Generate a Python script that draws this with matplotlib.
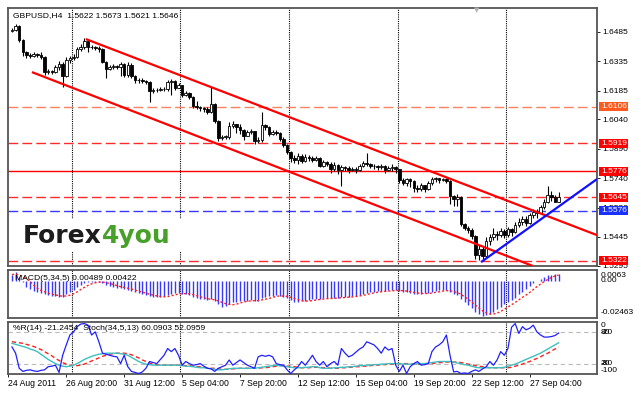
import numpy as np
import matplotlib
matplotlib.use('Agg')
import matplotlib.pyplot as plt
import matplotlib.transforms as mtransforms
from matplotlib.patches import Rectangle

plt.rcParams['font.family'] = ['Liberation Sans', 'DejaVu Sans']

# GBPUSD H4 candles, 24 Aug - 28 Sep 2011
first_open = 1.6490
closes = [
    1.6495, 1.6516, 1.6444, 1.6384, 1.6368, 1.6363, 1.6373, 1.6368, 1.6358, 1.6282,
    1.6287, 1.6282, 1.6307, 1.6323, 1.6262, 1.6343, 1.6353, 1.6358, 1.6399, 1.6409,
    1.6439, 1.6409, 1.6409, 1.6404, 1.6399, 1.6333, 1.6297, 1.6307, 1.6312, 1.6307,
    1.6323, 1.6267, 1.6318, 1.6262, 1.6242, 1.6242, 1.6237, 1.6232, 1.6186, 1.6191,
    1.6191, 1.6196, 1.6196, 1.6232, 1.6237, 1.6201, 1.6216, 1.6166, 1.6176, 1.6155,
    1.6110, 1.6105, 1.6100, 1.6095, 1.6080, 1.6120, 1.6034, 1.5948, 1.5953, 1.5953,
    1.6009, 1.6019, 1.6004, 1.5988, 1.5958, 1.5978, 1.5983, 1.5933, 1.5938, 1.6014,
    1.6004, 1.5968, 1.5978, 1.5973, 1.5943, 1.5912, 1.5877, 1.5846, 1.5836, 1.5856,
    1.5831, 1.5851, 1.5846, 1.5836, 1.5846, 1.5806, 1.5826, 1.5816, 1.5786, 1.5811,
    1.5781, 1.5796, 1.5791, 1.5781, 1.5786, 1.5781, 1.5806, 1.5821, 1.5816, 1.5806,
    1.5801, 1.5796, 1.5801, 1.5781, 1.5791, 1.5796, 1.5786, 1.5730, 1.5715, 1.5735,
    1.5725, 1.5690, 1.5685, 1.5705, 1.5685, 1.5715, 1.5735, 1.5740, 1.5730, 1.5735,
    1.5725, 1.5649, 1.5634, 1.5644, 1.5507, 1.5487, 1.5477, 1.5446, 1.5350, 1.5381,
    1.5345, 1.5421, 1.5441, 1.5456, 1.5451, 1.5472, 1.5451, 1.5482, 1.5467, 1.5502,
    1.5517, 1.5532, 1.5512, 1.5553, 1.5568, 1.5563, 1.5593, 1.5619, 1.5655, 1.5644,
    1.5622, 1.5646]
highs = [
    1.6505, 1.6526, 1.6521, 1.6449, 1.6389, 1.6378, 1.6384, 1.6378, 1.6384, 1.6363,
    1.6297, 1.6292, 1.6318, 1.6338, 1.6333, 1.6358, 1.6363, 1.6373, 1.6409, 1.6424,
    1.6454, 1.6444, 1.6419, 1.6414, 1.6414, 1.6404, 1.6338, 1.6318, 1.6323, 1.6318,
    1.6333, 1.6328, 1.6333, 1.6328, 1.6267, 1.6252, 1.6252, 1.6242, 1.6237, 1.6201,
    1.6201, 1.6206, 1.6206, 1.6242, 1.6247, 1.6242, 1.6226, 1.6216, 1.6186, 1.6181,
    1.6160, 1.6135, 1.6110, 1.6105, 1.6105, 1.6206, 1.6125, 1.6039, 1.5963, 1.5963,
    1.6029, 1.6034, 1.6019, 1.6019, 1.5993, 1.5988, 1.5993, 1.5983, 1.5953, 1.6080,
    1.6019, 1.6009, 1.5988, 1.5988, 1.5978, 1.5953, 1.5917, 1.5882, 1.5861, 1.5871,
    1.5866, 1.5866, 1.5861, 1.5856, 1.5856, 1.5851, 1.5836, 1.5831, 1.5826, 1.5826,
    1.5816, 1.5811, 1.5806, 1.5801, 1.5796, 1.5796, 1.5816, 1.5831, 1.5872, 1.5821,
    1.5816, 1.5811, 1.5816, 1.5811, 1.5806, 1.5816, 1.5806, 1.5786, 1.5740, 1.5745,
    1.5740, 1.5730, 1.5705, 1.5715, 1.5705, 1.5725, 1.5750, 1.5750, 1.5745, 1.5745,
    1.5740, 1.5730, 1.5654, 1.5659, 1.5649, 1.5512, 1.5497, 1.5487, 1.5451, 1.5401,
    1.5391, 1.5441, 1.5456, 1.5487, 1.5472, 1.5487, 1.5482, 1.5492, 1.5487, 1.5517,
    1.5537, 1.5548, 1.5548, 1.5563, 1.5583, 1.5583, 1.5603, 1.5634, 1.5700, 1.5674,
    1.5654, 1.5673]
lows = [
    1.6485, 1.6490, 1.6434, 1.6363, 1.6353, 1.6353, 1.6358, 1.6358, 1.6348, 1.6267,
    1.6272, 1.6272, 1.6277, 1.6292, 1.6206, 1.6257, 1.6328, 1.6343, 1.6353, 1.6389,
    1.6399, 1.6384, 1.6399, 1.6394, 1.6384, 1.6328, 1.6252, 1.6292, 1.6297, 1.6297,
    1.6262, 1.6257, 1.6257, 1.6252, 1.6226, 1.6226, 1.6226, 1.6221, 1.6130, 1.6176,
    1.6181, 1.6186, 1.6186, 1.6186, 1.6166, 1.6191, 1.6201, 1.6155, 1.6160, 1.6145,
    1.6100, 1.6095, 1.6085, 1.6080, 1.6069, 1.6075, 1.6024, 1.5933, 1.5938, 1.5943,
    1.5943, 1.5998, 1.5973, 1.5968, 1.5938, 1.5963, 1.5968, 1.5917, 1.5922, 1.5928,
    1.5988, 1.5958, 1.5963, 1.5963, 1.5933, 1.5902, 1.5866, 1.5826, 1.5821, 1.5816,
    1.5821, 1.5826, 1.5831, 1.5826, 1.5831, 1.5796, 1.5796, 1.5801, 1.5770, 1.5776,
    1.5765, 1.5700, 1.5776, 1.5770, 1.5776, 1.5770, 1.5776, 1.5796, 1.5801, 1.5791,
    1.5786, 1.5781, 1.5786, 1.5770, 1.5776, 1.5776, 1.5770, 1.5715, 1.5705, 1.5700,
    1.5695, 1.5670, 1.5670, 1.5674, 1.5670, 1.5680, 1.5705, 1.5720, 1.5715, 1.5725,
    1.5715, 1.5608, 1.5598, 1.5598, 1.5497, 1.5477, 1.5461, 1.5431, 1.5330, 1.5325,
    1.5330, 1.5340, 1.5401, 1.5426, 1.5426, 1.5441, 1.5436, 1.5441, 1.5446, 1.5461,
    1.5492, 1.5502, 1.5497, 1.5507, 1.5537, 1.5537, 1.5558, 1.5583, 1.5614, 1.5624,
    1.5618, 1.5621]

# MACD(5,34,5) histogram and signal, in 1e-4
macd_pts = [
    40, 63, 25, -10, -40, -55, -70, -78, -85, -92,
    -98, -105, -108, -110, -112, -92, -78, -60, -42, -28,
    -15, -8, -8, -5, -6, -15, -28, -36, -42, -46,
    -49, -58, -62, -72, -80, -86, -92, -98, -108, -112,
    -114, -112, -108, -96, -88, -86, -84, -90, -95, -100,
    -112, -120, -126, -130, -135, -128, -140, -165, -183, -178,
    -160, -150, -145, -140, -142, -138, -133, -138, -140, -118,
    -110, -108, -104, -100, -104, -112, -122, -135, -147, -145,
    -142, -138, -133, -130, -125, -125, -122, -120, -122, -118,
    -117, -115, -112, -110, -106, -103, -96, -88, -82, -78,
    -75, -73, -71, -70, -66, -64, -63, -70, -78, -80,
    -84, -90, -92, -88, -86, -82, -75, -70, -66, -63,
    -64, -80, -95, -100, -126, -150, -168, -190, -215, -230,
    -246, -240, -230, -215, -200, -185, -165, -150, -135, -120,
    -95, -80, -55, -35, -12, 2, 15, 28, 40, 45,
    47, 49]
signal_pts = [
    45, 48, 42, 30, 16, -3, -30, -51, -66, -76,
    -85, -92, -98, -103, -107, -105, -100, -90, -77, -60,
    -45, -31, -20, -13, -8, -8, -12, -18, -25, -33,
    -40, -46, -51, -57, -64, -72, -78, -86, -93, -99,
    -105, -109, -111, -110, -104, -98, -92, -89, -89, -91,
    -96, -103, -111, -118, -125, -128, -132, -140, -150, -159,
    -165, -167, -163, -155, -147, -143, -140, -138, -138, -133,
    -128, -123, -116, -108, -105, -106, -108, -115, -124, -132,
    -138, -141, -141, -138, -134, -130, -127, -124, -123, -121,
    -120, -118, -116, -114, -112, -109, -105, -101, -95, -89,
    -84, -79, -76, -73, -71, -69, -67, -67, -68, -71,
    -75, -80, -85, -87, -88, -88, -85, -80, -76, -71,
    -68, -69, -74, -81, -93, -110, -128, -147, -170, -190,
    -210, -224, -232, -232, -226, -214, -199, -183, -167, -151,
    -133, -115, -99, -81, -60, -40, -22, -4, 11, 24,
    35, 42]

# Williams %R(14)
wpr = [
    -48, -60, -89, -95, -93, -92, -94, -95, -93, -92,
    -86, -85, -83, -97, -64, -44, -25, -19, -9, -4,
    -3, -6, -25, -19, -38, -60, -62, -64, -66, -67,
    -80, -64, -86, -95, -97, -99, -96, -89, -76, -78,
    -80, -72, -64, -51, -57, -51, -64, -83, -76, -80,
    -83, -82, -80, -85, -89, -90, -95, -89, -86, -83,
    -73, -83, -78, -73, -78, -83, -86, -89, -67, -64,
    -66, -64, -67, -80, -82, -83, -92, -99, -92, -86,
    -76, -83, -74, -64, -76, -83, -76, -86, -80, -76,
    -83, -51, -60, -67, -64, -58, -52, -48, -38, -41,
    -44, -51, -60, -48, -54, -51, -83, -95, -83, -99,
    -86, -80, -76, -83, -82, -80, -57, -48, -44, -38,
    -25, -64, -96, -95, -99, -98, -99, -95, -92, -95,
    -90, -86, -76, -83, -73, -57, -64, -51, -10, -3,
    -22, -9, -15, -12, -6, -19, -25, -29, -29, -28,
    -26, -21.25]

# Stochastic(34,5,13) main and signal
stoch_main = [
    59, 57, 55, 53, 51, 48, 46, 43, 38, 33,
    28, 24, 20, 17, 15, 14, 15, 17, 20, 24,
    28, 31, 34, 36, 38, 39, 40, 40, 40, 40,
    39, 38, 36, 32, 28, 24, 21, 19, 18, 17,
    17, 17, 17, 17, 17, 17, 17, 16, 15, 15,
    14, 13, 12, 12, 11, 10, 9, 8, 8, 9,
    10, 11, 11, 11, 11, 11, 11, 11, 12, 13,
    14, 15, 16, 17, 16, 15, 14, 13, 12, 12,
    12, 13, 13, 14, 14, 12, 11, 11, 11, 12,
    12, 13, 13, 14, 14, 15, 16, 16, 17, 17,
    18, 18, 19, 19, 20, 20, 20, 20, 19, 19,
    19, 19, 20, 20, 20, 21, 22, 23, 24, 24,
    24, 24, 23, 21, 20, 18, 17, 15, 13, 12,
    12, 12, 12, 12, 12, 12, 13, 15, 17, 19,
    22, 25, 28, 31, 34, 37, 40, 44, 48, 52,
    56, 60.09]
stoch_signal = [
    62, 61, 60, 59, 57, 55, 53, 50, 47, 43,
    39, 35, 30, 26, 22, 19, 17, 16, 16, 17,
    19, 22, 25, 28, 31, 34, 36, 38, 39, 40,
    40, 40, 39, 37, 34, 31, 27, 24, 21, 19,
    18, 17, 17, 17, 17, 17, 17, 17, 16, 16,
    15, 14, 14, 13, 12, 11, 11, 10, 9, 9,
    9, 10, 10, 11, 11, 11, 11, 11, 11, 12,
    12, 13, 14, 15, 16, 16, 15, 15, 14, 13,
    12, 12, 12, 13, 13, 13, 12, 12, 11, 11,
    11, 12, 12, 13, 13, 14, 14, 15, 15, 16,
    17, 17, 18, 18, 19, 19, 20, 20, 20, 20,
    19, 19, 19, 19, 20, 20, 20, 21, 22, 22,
    23, 23, 23, 23, 22, 21, 19, 18, 16, 15,
    14, 13, 12, 12, 12, 12, 12, 12, 13, 15,
    17, 19, 22, 24, 27, 30, 33, 37, 40, 44,
    48, 52.1]

tick_pos = [-1, 15, 31, 47, 63, 79, 95, 111, 127, 143]
tick_labels = ['24 Aug 2011', '26 Aug 20:00', '31 Aug 12:00', '5 Sep 04:00', '7 Sep 20:00',
               '12 Sep 12:00', '15 Sep 04:00', '19 Sep 20:00', '22 Sep 12:00', '27 Sep 04:00']
grid_pos = [16.5, 46.5, 76.5, 106.5, 136.5]
price_ticks = [1.6485, 1.6335, 1.6185, 1.6040, 1.5890, 1.5740, 1.5590, 1.5445, 1.5295]

level_prices = [1.6106, 1.5919, 1.5776, 1.5645, 1.5576, 1.5322]
level_colors = ['#ff8060', '#ff2a2a', '#ff0000', '#ff2a2a', '#3a3aff', '#ff2a2a']
level_boxes = ['#ff5a1e', '#ff0000', '#ff0000', '#ff0000', '#1a30ff', '#ff0000']
level_dashed = [True, True, False, True, True, True]

# trend lines: (bar, price) end points
upper_channel = [(20.4, 1.6449), (161.6, 1.5452)]
lower_channel = [(5.5, 1.6281), (143.9, 1.5295)]
up_trend = [(129.6, 1.5315), (161.6, 1.5737)]

W, H = 639, 395


def px_rect(x0, y0, x1, y1):
    return [x0 / W, 1 - y1 / H, (x1 - x0) / W, (y1 - y0) / H]


fig = plt.figure(figsize=(W / 100, H / 100), dpi=100)
fig.patch.set_facecolor('white')
ax = fig.add_axes(px_rect(8, 8, 597, 266))
ax2 = fig.add_axes(px_rect(8, 270, 597, 318))
ax3 = fig.add_axes(px_rect(8, 322, 597, 374))

o = np.array([first_open] + closes[:-1])
c = np.array(closes)
h = np.maximum(np.array(highs), np.maximum(o, c))
l = np.minimum(np.array(lows), np.minimum(o, c))
idx = np.arange(len(c))
up = c >= o

xlim = (-1.1, 161.6)
for a in (ax, ax2, ax3):
    a.set_xlim(*xlim)
    for g in grid_pos:
        a.axvline(g, color='black', lw=0.8, ls=(0, (1, 1)), zorder=1)
    for s in a.spines.values():
        s.set_color('#555555')
        s.set_linewidth(1.3)
    a.set_facecolor('white')

# main price panel
ax.set_ylim(1.5295, 1.6607)
dash = (0, (7, 3))
for p, lc, dashed in zip(level_prices, level_colors, level_dashed):
    ax.axhline(p, color=lc, lw=1.0, ls=dash if dashed else '-', zorder=2)

ax.vlines(idx, l, h, color='black', lw=0.8, zorder=3)
body_lo = np.minimum(o, c)
body_h = np.maximum(np.abs(c - o), 0.00006)
ax.bar(idx[up], body_h[up], bottom=body_lo[up], width=0.7, color='white',
       edgecolor='black', linewidth=0.6, zorder=4)
ax.bar(idx[~up], body_h[~up], bottom=body_lo[~up], width=0.7, color='black',
       edgecolor='black', linewidth=0.6, zorder=4)

for line, col in ((upper_channel, '#ff0000'), (lower_channel, '#ff0000'), (up_trend, '#1010ff')):
    xs, ys = zip(*line)
    ax.plot(xs, ys, color=col, lw=1.6, zorder=5, solid_capstyle='butt')

ax.set_xticks([])
ax.yaxis.tick_right()
ax.set_yticks(price_ticks)
ax.set_yticklabels(['%.4f' % t for t in price_ticks])
ax.tick_params(axis='y', length=2, width=0.6, pad=1.5, labelsize=6)

trans = mtransforms.blended_transform_factory(ax.transAxes, ax.transData)
box_h = 9 / 1966
for p, bc in zip(level_prices, level_boxes):
    ax.add_patch(Rectangle((1.0034, p - box_h / 2), 0.049, box_h, transform=trans,
                           facecolor=bc, edgecolor='none', clip_on=False, zorder=6))
    ax.text(1.0068, p, '%.4f' % p, transform=trans, ha='left', va='center',
            color='white', fontsize=6, clip_on=False, zorder=7)

# logo
ax.add_patch(Rectangle((0.003, 0.058), 0.30, 0.124, transform=ax.transAxes,
                       facecolor='white', edgecolor='none', zorder=4))
logo = ax.text(0.0255, 0.089, 'Forex', transform=ax.transAxes, fontsize=18,
               fontweight='bold', family='DejaVu Sans', color='#1c1c1c',
               va='baseline', zorder=5)
ax.annotate('4you', xy=(1, 0), xycoords=logo, fontsize=18, fontweight='bold',
            family='DejaVu Sans', color='#48a02a', ha='left', va='bottom', zorder=5)

fig.text(13 / W, 1 - 16 / H, 'GBPUSD,H4  %.4f %.4f %.4f %.4f' % (o[-1], h[-1], l[-1], c[-1]),
         fontsize=6.1, va='center', ha='left')
fig.text(477 / W, 1 - 10 / H, '\u25bc', color='#b0b0b0', fontsize=5, ha='center',
         va='center', family='DejaVu Sans')

# MACD panel
macd = np.array(macd_pts) / 1e4
signal = np.array(signal_pts) / 1e4
ax2.set_ylim(-0.0260, 0.0077)
ax2.vlines(idx, 0, macd, color='#3838ff', lw=1.0, zorder=3)
ax2.plot(idx, signal, color='#ff2020', lw=1.0, ls=(0, (1.5, 1.5)), zorder=4)
ax2.set_xticks([])
ax2.set_yticks([])
t2 = mtransforms.blended_transform_factory(ax2.transAxes, ax2.transData)
ax2.text(1.0068, 0.0063, '0.0063', transform=t2, fontsize=6, va='top', clip_on=False)
ax2.text(1.0068, 0.0, '0.00', transform=t2, fontsize=6, va='center', clip_on=False)
ax2.text(1.0068, -0.02463, '-0.02463', transform=t2, fontsize=6, va='bottom', clip_on=False)
fig.text(15 / W, 1 - 279 / H, 'MACD(5,34,5) 0.00489 0.00422', fontsize=6.1, va='center')

# %R / Stochastic panel
ax3.set_ylim(0, 100)
ax3.axhline(80, color='#bbbbbb', lw=0.8, ls=(0, (4, 3)), zorder=1)
ax3.axhline(20, color='#bbbbbb', lw=0.8, ls=(0, (4, 3)), zorder=1)
ax3.plot(idx, np.array(stoch_signal), color='#ff2020', lw=1.0, ls=(0, (3, 2)), zorder=3)
ax3.plot(idx, np.array(stoch_main), color='#3cc0c0', lw=1.0, zorder=3)
ax3.plot(idx, np.array(wpr) + 100, color='#2020ff', lw=0.9, zorder=4)
ax3.set_yticks([])
ax3.set_xticks(tick_pos)
ax3.set_xticklabels(tick_labels, ha='left')
ax3.tick_params(axis='x', length=2, width=0.6, pad=1.5, labelsize=6.2)
t3 = mtransforms.blended_transform_factory(ax3.transAxes, ax3.transData)
ax3.text(1.0068, 100, '0', transform=t3, fontsize=6, va='top', clip_on=False)
ax3.text(1.0068, 80, '80', transform=t3, fontsize=6, va='center', clip_on=False)
ax3.text(1.0068, 80, '-20', transform=t3, fontsize=6, va='center', clip_on=False)
ax3.text(1.0068, 20, '20', transform=t3, fontsize=6, va='center', clip_on=False)
ax3.text(1.0068, 20, '-80', transform=t3, fontsize=6, va='center', clip_on=False)
ax3.text(1.0068, 0, '-100', transform=t3, fontsize=6, va='bottom', clip_on=False)
fig.text(13 / W, 1 - 328 / H, '%R(14) -21.2454  Stoch(34,5,13) 60.0903 52.0959',
         fontsize=6.1, va='center')

fig.savefig('out.png', dpi=100, facecolor='white')
